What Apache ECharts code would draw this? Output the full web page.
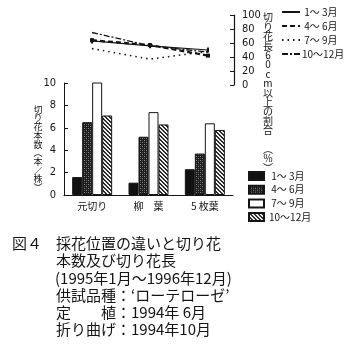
<!DOCTYPE html>
<html>
<head>
<meta charset="utf-8">
<script src="https://cdn.jsdelivr.net/npm/echarts@6/dist/echarts.min.js"></script>
<style>
  html, body { margin: 0; padding: 0; background: #fff; }
  #chart { width: 346px; height: 344px; }
</style>
</head>
<body>
<div id="chart"></div>
<script>
// Cutting positions
const categories = ['元切り', '柳　葉', '5 枚葉'];
// Season labels
const seasons = [' 1～ 3月', ' 4～ 6月', ' 7～ 9月', '10～12月'];

// Number of cut flowers per plant (本/株), by season
const stems_1_3 = [1.6, 1.1, 2.3];
const stems_4_6 = [6.5, 5.2, 3.7];
const stems_7_9 = [10.4, 7.4, 6.4];
const stems_10_12 = [7.1, 6.3, 5.8];

// Share of stems 60 cm or longer (%), by season
const long_1_3 = [63, 56, 50];
const long_4_6 = [64, 57, 42];
const long_7_9 = [52, 37, 48];
const long_10_12 = [75, 56, 47];

// Axis ticks
const stemTicks = { min: 0, max: 10, interval: 2 };
const pctTicks = { min: 0, max: 100, interval: 20 };

const FONT = '"Noto Sans CJK JP", "Noto Sans", sans-serif';
const NARROW = '"Liberation Sans Narrow", "DejaVu Sans Condensed", "Liberation Sans", sans-serif';
const INK = '#151515';

// Fill patterns for the bars
function makePattern(size, draw) {
  const c = document.createElement('canvas');
  c.width = size; c.height = size;
  const g = c.getContext('2d');
  draw(g, size);
  return { image: c, repeat: 'repeat' };
}
const darkWeave = makePattern(4, (g, s) => {
  g.fillStyle = '#1c1c1c'; g.fillRect(0, 0, s, s);
  g.fillStyle = '#8a8a8a';
  g.fillRect(0, 0, 1, 1); g.fillRect(2, 2, 1, 1);
  g.fillStyle = '#555';
  g.fillRect(2, 0, 1, 1); g.fillRect(0, 2, 1, 1);
});
const diagHatch = makePattern(4, (g, s) => {
  g.fillStyle = '#f4f4f4'; g.fillRect(0, 0, s, s);
  g.fillStyle = '#2a2a2a';
  for (let i = 0; i < s; i++) {
    g.fillRect(i, i, 1, 1);
    g.fillRect((i + 1) % s, i, 1, 1);
  }
});

const barFills = ['#111', darkWeave, '#fff', diagHatch];
const barData = [stems_1_3, stems_4_6, stems_7_9, stems_10_12];
const lineData = [long_1_3, long_4_6, long_7_9, long_10_12];
const lineNames = ['L1', 'L2', 'L3', 'L4'];
const lineStyles = [
  { type: 'solid', width: 1.2, symbol: 'rect', symbolSize: [2, 5] },
  { type: [5, 3], width: 2.2, symbol: 'rect', symbolSize: 4 },
  { type: [1.5, 4], width: 1.6, symbol: 'none', symbolSize: 0 },
  { type: [6, 2, 2, 2], width: 1.3, symbol: 'none', symbolSize: 0 }
];

function vertical(str) { return Array.from(str).join('\n'); }

const series = [];
barData.forEach((d, i) => {
  series.push({
    name: seasons[i],
    type: 'bar',
    xAxisIndex: 1,
    yAxisIndex: 1,
    data: d,
    barWidth: 10,
    barGap: '0%',
    itemStyle: { color: barFills[i], borderColor: INK, borderWidth: 1 },
    emphasis: { disabled: true }
  });
});
lineData.forEach((d, i) => {
  const s = lineStyles[i];
  series.push({
    name: lineNames[i],
    type: 'line',
    xAxisIndex: 0,
    yAxisIndex: 0,
    data: d,
    symbol: s.symbol,
    symbolSize: s.symbolSize,
    showSymbol: s.symbol !== 'none',
    lineStyle: { color: INK, width: s.width, type: s.type },
    itemStyle: { color: INK },
    emphasis: { disabled: true }
  });
});

const caption = [
  { text: '図４', x: 12, y: 243 },
  { text: '採花位置の違いと切り花', x: 56, y: 243 },
  { text: '本数及び切り花長', x: 56, y: 260.5 },
  { text: '(1995年1月～1996年12月)', x: 55, y: 278 },
  { text: '供試品種：‘ローテローゼ’', x: 56, y: 295 },
  { text: '定　　植：1994年 6月', x: 56, y: 312 },
  { text: '折り曲げ：1994年10月', x: 56, y: 329.5 }
];

const chart = echarts.init(document.getElementById('chart'), null, { renderer: 'canvas' });
chart.setOption({
  backgroundColor: '#fff',
  animation: false,
  textStyle: { fontFamily: FONT, color: INK },
  grid: [
    { left: 63, top: 15, width: 174, height: 70 },
    { left: 64, top: 83, width: 169, height: 112 }
  ],
  xAxis: [
    { gridIndex: 0, type: 'category', data: categories, show: false },
    {
      gridIndex: 1, type: 'category', data: categories,
      axisLine: { lineStyle: { color: INK, width: 1 } },
      axisTick: { inside: true, length: 5, lineStyle: { color: INK } },
      axisLabel: { color: INK, fontSize: 10, margin: 6, fontFamily: FONT }
    }
  ],
  yAxis: [
    {
      gridIndex: 0, type: 'value', position: 'right', offset: -3,
      min: pctTicks.min, max: pctTicks.max, interval: pctTicks.interval,
      axisLine: { show: true, lineStyle: { color: INK, width: 1.2 } },
      axisTick: { show: true, inside: true, length: 4, lineStyle: { color: INK } },
      axisLabel: { color: INK, fontSize: 11, margin: 8, fontFamily: NARROW },
      splitLine: { show: false }
    },
    {
      gridIndex: 1, type: 'value',
      min: stemTicks.min, max: stemTicks.max, interval: stemTicks.interval,
      axisLine: { show: true, lineStyle: { color: INK, width: 1 } },
      axisTick: { show: true, inside: true, length: 4, lineStyle: { color: INK } },
      axisLabel: { color: INK, fontSize: 11, margin: 8, fontFamily: NARROW },
      splitLine: { show: false }
    }
  ],
  legend: [
    {
      data: lineNames,
      orient: 'vertical',
      left: 276, top: 2,
      itemWidth: 18, itemHeight: 8, itemGap: 4,
      formatter: (n) => seasons[lineNames.indexOf(n)],
      itemStyle: { opacity: 0 },
      textStyle: { fontSize: 10, color: INK, fontFamily: FONT, padding: [0, 0, 0, -3] },
      selectedMode: false
    },
    {
      data: seasons,
      orient: 'vertical',
      left: 243, top: 166,
      icon: 'rect',
      itemWidth: 15, itemHeight: 8, itemGap: 3.7,
      textStyle: { fontSize: 10, color: INK, fontFamily: FONT },
      selectedMode: false
    }
  ],
  series: series,
  graphic: [
    {
      type: 'text', x: 268, y: 13,
      style: {
        text: vertical('切り花長60cm以上の割合') + '\n\n' + vertical('︵％︶'),
        font: '10px ' + FONT, lineHeight: 9.4, fill: INK,
        textAlign: 'center', textVerticalAlign: 'top'
      }
    },
    {
      type: 'text', x: 38, y: 105,
      style: {
        text: vertical('切り花本数︵本／株︶'),
        font: '9px ' + FONT, lineHeight: 8.7, fill: INK,
        textAlign: 'center', textVerticalAlign: 'top'
      }
    }
  ].concat(caption.map(c => ({
    type: 'text', x: c.x, y: c.y,
    style: { text: c.text, font: '15px ' + FONT, fill: INK, textVerticalAlign: 'middle' }
  })))
});
</script>
</body>
</html>
